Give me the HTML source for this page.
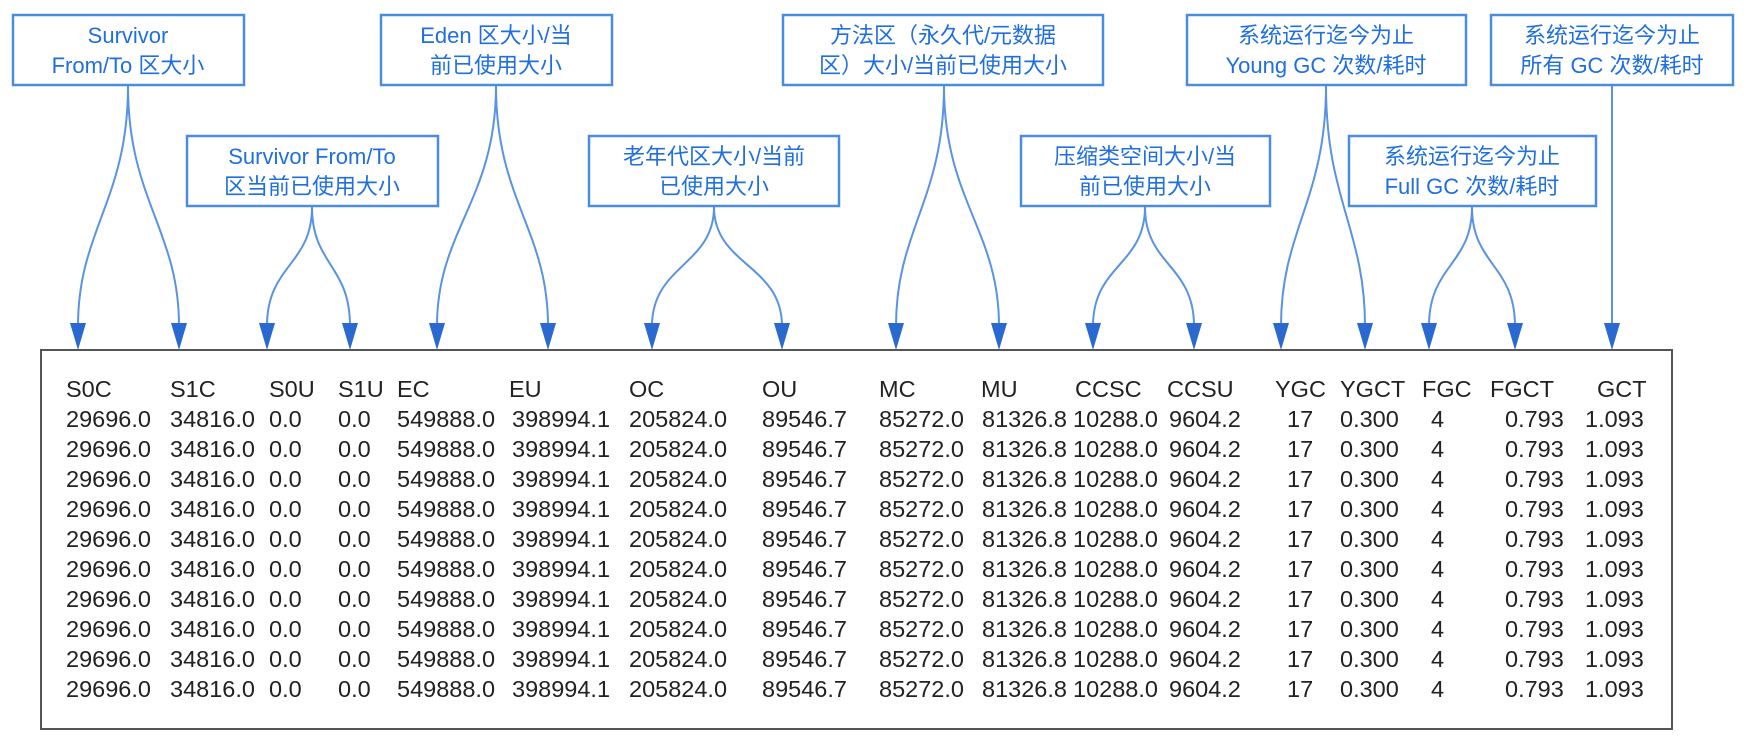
<!DOCTYPE html>
<html><head><meta charset="utf-8"><style>
html,body{margin:0;padding:0;background:#fff;width:1750px;height:740px;overflow:hidden}
svg{display:block}
.lb{font-family:"Liberation Sans","Noto Sans CJK SC",sans-serif;font-size:22px;fill:#1f6fe0;text-anchor:middle}
.tb{font-family:"Liberation Sans",sans-serif;font-size:23.5px;fill:#222}
.bx{fill:#fff;stroke:#4a8ce0;stroke-width:2.5}
.cn{fill:none;stroke:#5a93e0;stroke-width:2}
.ah{fill:#2a6ad0}
</style></head><body>
<svg width="1750" height="740" xmlns="http://www.w3.org/2000/svg">
<g class="cn">
<path d="M128 86 C128 200 78 230 78 326"/>
<path d="M128 86 C128 200 179 230 179 326"/>
<path d="M312 207 C312 265 267 265 267 326"/>
<path d="M312 207 C312 265 350 265 350 326"/>
<path d="M496 86 C496 200 437 230 437 326"/>
<path d="M496 86 C496 200 548 230 548 326"/>
<path d="M714 207 C714 265 652 265 652 326"/>
<path d="M714 207 C714 265 782 265 782 326"/>
<path d="M944 86 C944 200 896 230 896 326"/>
<path d="M944 86 C944 200 999 230 999 326"/>
<path d="M1145 207 C1145 265 1093 265 1093 326"/>
<path d="M1145 207 C1145 265 1194 265 1194 326"/>
<path d="M1326 86 C1326 200 1281 230 1281 326"/>
<path d="M1326 86 C1326 200 1365 230 1365 326"/>
<path d="M1472 207 C1472 265 1429 265 1429 326"/>
<path d="M1472 207 C1472 265 1515 265 1515 326"/>
<path d="M1612 86 L1612 326"/>
</g>
<g class="ah">
<polygon points="70,323 86,323 78,350"/>
<polygon points="171,323 187,323 179,350"/>
<polygon points="259,323 275,323 267,350"/>
<polygon points="342,323 358,323 350,350"/>
<polygon points="429,323 445,323 437,350"/>
<polygon points="540,323 556,323 548,350"/>
<polygon points="644,323 660,323 652,350"/>
<polygon points="774,323 790,323 782,350"/>
<polygon points="888,323 904,323 896,350"/>
<polygon points="991,323 1007,323 999,350"/>
<polygon points="1085,323 1101,323 1093,350"/>
<polygon points="1186,323 1202,323 1194,350"/>
<polygon points="1273,323 1289,323 1281,350"/>
<polygon points="1357,323 1373,323 1365,350"/>
<polygon points="1421,323 1437,323 1429,350"/>
<polygon points="1507,323 1523,323 1515,350"/>
<polygon points="1604,323 1620,323 1612,350"/>
</g>
<rect class="bx" x="13" y="15" width="231" height="70"/>
<text class="lb" x="128" y="43">Survivor</text><text class="lb" x="128" y="73">From/To 区大小</text>
<rect class="bx" x="187" y="136" width="251" height="70"/>
<text class="lb" x="312" y="164">Survivor From/To</text><text class="lb" x="312" y="194">区当前已使用大小</text>
<rect class="bx" x="381" y="15" width="231" height="70"/>
<text class="lb" x="496" y="43">Eden 区大小/当</text><text class="lb" x="496" y="73">前已使用大小</text>
<rect class="bx" x="589" y="136" width="250" height="70"/>
<text class="lb" x="714" y="164">老年代区大小/当前</text><text class="lb" x="714" y="194">已使用大小</text>
<rect class="bx" x="783" y="15" width="320" height="70"/>
<text class="lb" x="943" y="43">方法区（永久代/元数据</text><text class="lb" x="943" y="73">区）大小/当前已使用大小</text>
<rect class="bx" x="1021" y="136" width="249" height="70"/>
<text class="lb" x="1145" y="164">压缩类空间大小/当</text><text class="lb" x="1145" y="194">前已使用大小</text>
<rect class="bx" x="1187" y="15" width="279" height="70"/>
<text class="lb" x="1326" y="43">系统运行迄今为止</text><text class="lb" x="1326" y="73">Young GC 次数/耗时</text>
<rect class="bx" x="1349" y="136" width="247" height="70"/>
<text class="lb" x="1472" y="164">系统运行迄今为止</text><text class="lb" x="1472" y="194">Full GC 次数/耗时</text>
<rect class="bx" x="1491" y="15" width="242" height="70"/>
<text class="lb" x="1612" y="43">系统运行迄今为止</text><text class="lb" x="1612" y="73">所有 GC 次数/耗时</text>
<rect x="41" y="350" width="1631" height="379" fill="none" stroke="#555" stroke-width="2"/>
<g class="tb">
<text y="397"><tspan x="66">S0C</tspan><tspan x="170">S1C</tspan><tspan x="269">S0U</tspan><tspan x="338">S1U</tspan><tspan x="397">EC</tspan><tspan x="509">EU</tspan><tspan x="629">OC</tspan><tspan x="762">OU</tspan><tspan x="879">MC</tspan><tspan x="981">MU</tspan><tspan x="1075">CCSC</tspan><tspan x="1167">CCSU</tspan><tspan x="1275">YGC</tspan><tspan x="1340">YGCT</tspan><tspan x="1422">FGC</tspan><tspan x="1490">FGCT</tspan><tspan x="1597">GCT</tspan></text>
<text y="427"><tspan x="66">29696.0</tspan><tspan x="170">34816.0</tspan><tspan x="269">0.0</tspan><tspan x="338">0.0</tspan><tspan x="397">549888.0</tspan><tspan x="512">398994.1</tspan><tspan x="629">205824.0</tspan><tspan x="762">89546.7</tspan><tspan x="879">85272.0</tspan><tspan x="982">81326.8</tspan><tspan x="1073">10288.0</tspan><tspan x="1169">9604.2</tspan><tspan x="1287">17</tspan><tspan x="1340">0.300</tspan><tspan x="1431">4</tspan><tspan x="1505">0.793</tspan><tspan x="1585">1.093</tspan></text>
<text y="457"><tspan x="66">29696.0</tspan><tspan x="170">34816.0</tspan><tspan x="269">0.0</tspan><tspan x="338">0.0</tspan><tspan x="397">549888.0</tspan><tspan x="512">398994.1</tspan><tspan x="629">205824.0</tspan><tspan x="762">89546.7</tspan><tspan x="879">85272.0</tspan><tspan x="982">81326.8</tspan><tspan x="1073">10288.0</tspan><tspan x="1169">9604.2</tspan><tspan x="1287">17</tspan><tspan x="1340">0.300</tspan><tspan x="1431">4</tspan><tspan x="1505">0.793</tspan><tspan x="1585">1.093</tspan></text>
<text y="487"><tspan x="66">29696.0</tspan><tspan x="170">34816.0</tspan><tspan x="269">0.0</tspan><tspan x="338">0.0</tspan><tspan x="397">549888.0</tspan><tspan x="512">398994.1</tspan><tspan x="629">205824.0</tspan><tspan x="762">89546.7</tspan><tspan x="879">85272.0</tspan><tspan x="982">81326.8</tspan><tspan x="1073">10288.0</tspan><tspan x="1169">9604.2</tspan><tspan x="1287">17</tspan><tspan x="1340">0.300</tspan><tspan x="1431">4</tspan><tspan x="1505">0.793</tspan><tspan x="1585">1.093</tspan></text>
<text y="517"><tspan x="66">29696.0</tspan><tspan x="170">34816.0</tspan><tspan x="269">0.0</tspan><tspan x="338">0.0</tspan><tspan x="397">549888.0</tspan><tspan x="512">398994.1</tspan><tspan x="629">205824.0</tspan><tspan x="762">89546.7</tspan><tspan x="879">85272.0</tspan><tspan x="982">81326.8</tspan><tspan x="1073">10288.0</tspan><tspan x="1169">9604.2</tspan><tspan x="1287">17</tspan><tspan x="1340">0.300</tspan><tspan x="1431">4</tspan><tspan x="1505">0.793</tspan><tspan x="1585">1.093</tspan></text>
<text y="547"><tspan x="66">29696.0</tspan><tspan x="170">34816.0</tspan><tspan x="269">0.0</tspan><tspan x="338">0.0</tspan><tspan x="397">549888.0</tspan><tspan x="512">398994.1</tspan><tspan x="629">205824.0</tspan><tspan x="762">89546.7</tspan><tspan x="879">85272.0</tspan><tspan x="982">81326.8</tspan><tspan x="1073">10288.0</tspan><tspan x="1169">9604.2</tspan><tspan x="1287">17</tspan><tspan x="1340">0.300</tspan><tspan x="1431">4</tspan><tspan x="1505">0.793</tspan><tspan x="1585">1.093</tspan></text>
<text y="577"><tspan x="66">29696.0</tspan><tspan x="170">34816.0</tspan><tspan x="269">0.0</tspan><tspan x="338">0.0</tspan><tspan x="397">549888.0</tspan><tspan x="512">398994.1</tspan><tspan x="629">205824.0</tspan><tspan x="762">89546.7</tspan><tspan x="879">85272.0</tspan><tspan x="982">81326.8</tspan><tspan x="1073">10288.0</tspan><tspan x="1169">9604.2</tspan><tspan x="1287">17</tspan><tspan x="1340">0.300</tspan><tspan x="1431">4</tspan><tspan x="1505">0.793</tspan><tspan x="1585">1.093</tspan></text>
<text y="607"><tspan x="66">29696.0</tspan><tspan x="170">34816.0</tspan><tspan x="269">0.0</tspan><tspan x="338">0.0</tspan><tspan x="397">549888.0</tspan><tspan x="512">398994.1</tspan><tspan x="629">205824.0</tspan><tspan x="762">89546.7</tspan><tspan x="879">85272.0</tspan><tspan x="982">81326.8</tspan><tspan x="1073">10288.0</tspan><tspan x="1169">9604.2</tspan><tspan x="1287">17</tspan><tspan x="1340">0.300</tspan><tspan x="1431">4</tspan><tspan x="1505">0.793</tspan><tspan x="1585">1.093</tspan></text>
<text y="637"><tspan x="66">29696.0</tspan><tspan x="170">34816.0</tspan><tspan x="269">0.0</tspan><tspan x="338">0.0</tspan><tspan x="397">549888.0</tspan><tspan x="512">398994.1</tspan><tspan x="629">205824.0</tspan><tspan x="762">89546.7</tspan><tspan x="879">85272.0</tspan><tspan x="982">81326.8</tspan><tspan x="1073">10288.0</tspan><tspan x="1169">9604.2</tspan><tspan x="1287">17</tspan><tspan x="1340">0.300</tspan><tspan x="1431">4</tspan><tspan x="1505">0.793</tspan><tspan x="1585">1.093</tspan></text>
<text y="667"><tspan x="66">29696.0</tspan><tspan x="170">34816.0</tspan><tspan x="269">0.0</tspan><tspan x="338">0.0</tspan><tspan x="397">549888.0</tspan><tspan x="512">398994.1</tspan><tspan x="629">205824.0</tspan><tspan x="762">89546.7</tspan><tspan x="879">85272.0</tspan><tspan x="982">81326.8</tspan><tspan x="1073">10288.0</tspan><tspan x="1169">9604.2</tspan><tspan x="1287">17</tspan><tspan x="1340">0.300</tspan><tspan x="1431">4</tspan><tspan x="1505">0.793</tspan><tspan x="1585">1.093</tspan></text>
<text y="697"><tspan x="66">29696.0</tspan><tspan x="170">34816.0</tspan><tspan x="269">0.0</tspan><tspan x="338">0.0</tspan><tspan x="397">549888.0</tspan><tspan x="512">398994.1</tspan><tspan x="629">205824.0</tspan><tspan x="762">89546.7</tspan><tspan x="879">85272.0</tspan><tspan x="982">81326.8</tspan><tspan x="1073">10288.0</tspan><tspan x="1169">9604.2</tspan><tspan x="1287">17</tspan><tspan x="1340">0.300</tspan><tspan x="1431">4</tspan><tspan x="1505">0.793</tspan><tspan x="1585">1.093</tspan></text>
</g>
</svg>
</body></html>
